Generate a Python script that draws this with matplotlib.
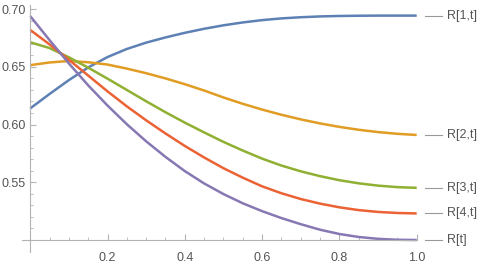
import numpy as np
import matplotlib.pyplot as plt
from matplotlib.ticker import FixedLocator

plt.rcParams['font.family'] = ['Liberation Sans', 'DejaVu Sans']

# Values, t = 0, 0.05, ..., 1.0
t = np.linspace(0, 1, 21)
r1 = [0.614, 0.6265, 0.6385, 0.6495, 0.6585, 0.6655, 0.671, 0.6755, 0.6795, 0.683, 0.686,
      0.6885, 0.6905, 0.692, 0.693, 0.6937, 0.6941, 0.6943, 0.6944, 0.6944, 0.6944]
r2 = [0.6515, 0.6538, 0.6551, 0.654, 0.652, 0.6485, 0.6445, 0.640, 0.635, 0.6295, 0.6235,
      0.618, 0.613, 0.6085, 0.6045, 0.601, 0.598, 0.5955, 0.5935, 0.592, 0.591]
r3 = [0.6713, 0.6663, 0.6583, 0.6493, 0.6398, 0.630, 0.6202, 0.6107, 0.6017, 0.5932, 0.585,
      0.5775, 0.5705, 0.5645, 0.5595, 0.5553, 0.5518, 0.5491, 0.5471, 0.5458, 0.5452]
r4 = [0.682, 0.6695, 0.6562, 0.6425, 0.6288, 0.6158, 0.6037, 0.5923, 0.5815, 0.5715, 0.5622,
      0.554, 0.5465, 0.5405, 0.5355, 0.5315, 0.5283, 0.5259, 0.5243, 0.5234, 0.523]
r0 = [0.694, 0.6732, 0.653, 0.634, 0.6165, 0.6003, 0.5855, 0.572, 0.5597, 0.549, 0.5398,
      0.5318, 0.525, 0.519, 0.5137, 0.5089, 0.5052, 0.5026, 0.501, 0.5002, 0.500]

series = [r1, r2, r3, r4, r0]
labels = ['R[1,t]', 'R[2,t]', 'R[3,t]', 'R[4,t]', 'R[t]']
colors = ['#5E81B5', '#E19C24', '#8FB032', '#EB6235', '#8778B3']

xticks = [0.2, 0.4, 0.6, 0.8, 1.0]
yticks = [0.55, 0.60, 0.65, 0.70]

fig = plt.figure(figsize=(5, 2.64), dpi=100)
ax = fig.add_axes([0.0434, 0.04545, 0.79, 0.9356])

for y, c in zip(series, colors):
    ax.plot(t, y, color=c, lw=1.8, solid_capstyle='butt', solid_joinstyle='round')

# Labels at the right end of each curve
for y, lab in zip(series, labels):
    ax.plot([1.022, 1.065], [y[-1], y[-1]], color='#999999', lw=0.8, clip_on=False)
    ax.text(1.078, y[-1], lab, color='#555555', fontsize=9, va='center', ha='left',
            clip_on=False)

ax.set_xlim(-0.022, 1.0)
ax.set_ylim(0.4896, 0.7036)

axcol = '#b3b3b3'
for s in ['top', 'right']:
    ax.spines[s].set_visible(False)
ax.spines['left'].set_position(('data', 0))
ax.spines['bottom'].set_position(('data', 0.5))
for s in ['left', 'bottom']:
    ax.spines[s].set_color(axcol)
    ax.spines[s].set_linewidth(0.8)

ax.set_xticks(xticks)
ax.set_xticklabels(['0.2', '0.4', '0.6', '0.8', '1.0'])
ax.set_yticks(yticks)
ax.set_yticklabels(['0.55', '0.60', '0.65', '0.70'])
ax.xaxis.set_minor_locator(FixedLocator([v for v in np.arange(1, 20) * 0.05
                                         if round(v * 20) % 4 != 0]))
ax.yaxis.set_minor_locator(FixedLocator([v for v in 0.5 + np.arange(0, 21) * 0.01
                                         if round(v * 100) % 5 != 0 or v < 0.505]))
ax.tick_params(axis='both', which='major', direction='in', length=4, width=0.8,
               color=axcol, labelcolor='#555555', labelsize=9)
ax.tick_params(axis='both', which='minor', direction='in', length=2.2, width=0.6,
               color=axcol)
ax.tick_params(axis='x', which='major', pad=9)
ax.tick_params(axis='y', which='major', pad=3)

fig.savefig('out.png', dpi=100)
